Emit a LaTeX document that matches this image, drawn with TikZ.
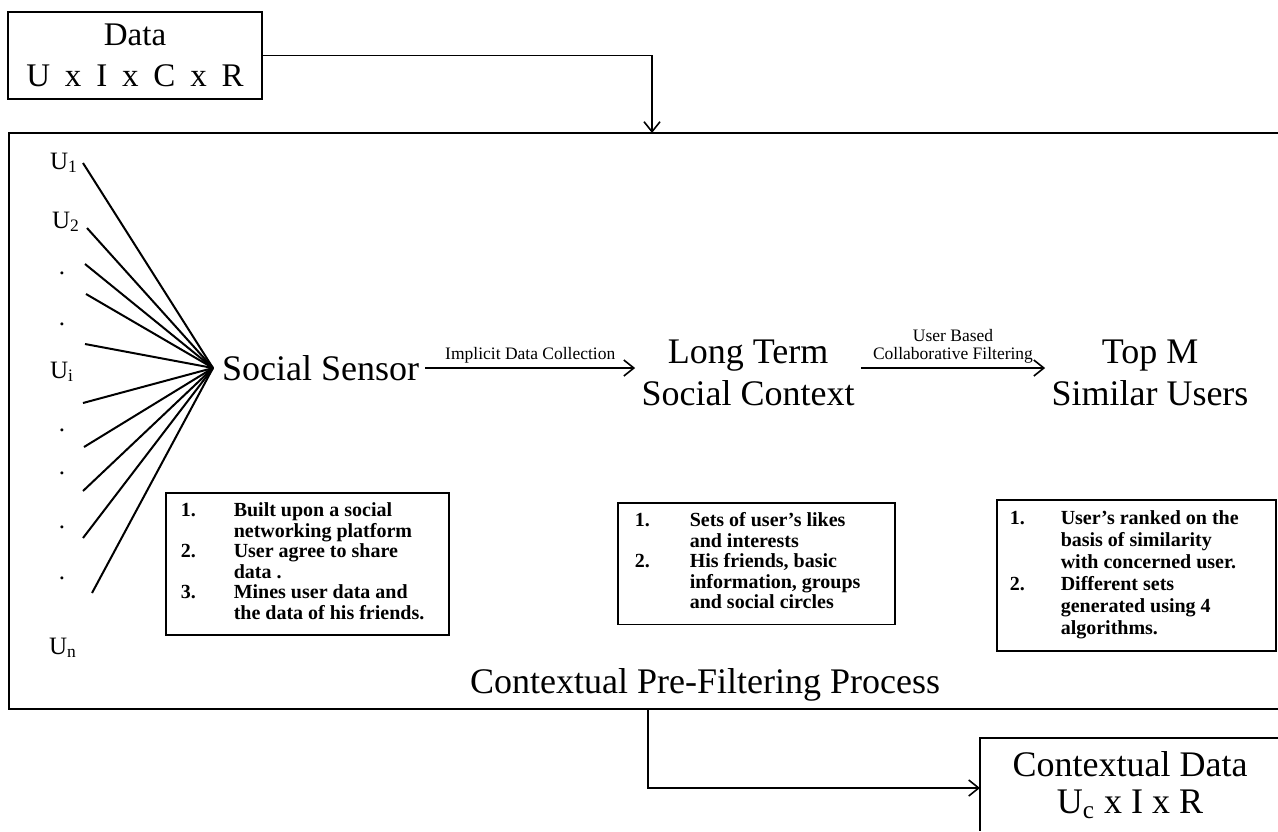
\documentclass[tikz,border=0pt]{standalone}
\usepackage{fontspec}
\setmainfont{Liberation Serif}
\usetikzlibrary{arrows.meta}
\newcommand{\wsp}{\hspace{0.45em}}

\begin{document}
\begin{tikzpicture}[x=0.5pt,y=-0.5pt,
  >={Straight Barb[length=5pt,width=8pt]},
  title/.style={font=\fontsize{18}{21}\selectfont,align=center,inner sep=3pt},
  datatxt/.style={font=\fontsize{16.5}{20.5}\selectfont,align=center},
  edgelbl/.style={font=\fontsize{8.75}{9}\selectfont,align=center,inner sep=2pt},
  userlbl/.style={font=\fontsize{12.5}{14}\selectfont,inner sep=0pt},
  infobox/.style={draw,line width=0.75pt,anchor=north west,inner ysep=4.8pt,font=\fontsize{10}{10.25}\selectfont\bfseries},
  fan/.style={line width=1pt},
  flow/.style={line width=0.8pt}]
  \useasboundingbox (0,0) rectangle (1278,831);

  \node[draw,line width=0.75pt,datatxt,minimum width=127pt,minimum height=43.5pt] (data) at (135,55.5) {Data\\U\wsp x\wsp I\wsp x\wsp C\wsp x\wsp R};
  \coordinate (pfin) at (652,133);
  \coordinate (pfout) at (648,709);
  \coordinate (hub) at (213,368);
  \coordinate (ctxin) at (980,788);

  \draw[flow] (1278,133) -- (9,133) -- (9,709) -- (1278,709);
  \draw[flow,->] (data.east) -| (pfin);

  \node[userlbl] (u1) at (64,163) {U\textsubscript{1}};
  \node[userlbl] (u2) at (66,222) {U\textsubscript{2}};
  \node[userlbl] (ui) at (62,372) {U\textsubscript{i}};
  \node[userlbl] (un) at (63,648) {U\textsubscript{n}};
  \foreach \y [count=\i] in {273,324,430,473,527,578}
    \node[userlbl] (dot\i) at (62,\y) {.};
  \foreach \x/\y [count=\i] in {83/163,87/228,85/264,86/294,85/344,83/403,84/447,83/491,83/538,92/593} {
    \coordinate (f\i) at (\x,\y);
    \draw[fan] (f\i) -- (hub);
  }

  \node[title] (sensor) at (320.5,368) {Social Sensor};
  \node[title] (ltc) at (748,373) {Long Term\\Social Context};
  \node[title] (topm) at (1150,373) {Top M\\Similar Users};
  \draw[flow,->] (sensor.east) -- node[edgelbl,above] {Implicit Data Collection} (sensor.east -| ltc.west);
  \draw[flow,->] (ltc.east |- sensor.east) -- node[edgelbl,above] {User Based\\Collaborative Filtering} (sensor.east -| topm.west);

  \node[infobox,inner xsep=7.5pt] (sensorinfo) at (165,492) {\begin{tabular}{@{}p{26.5pt}@{}p{100pt}@{}}
    1. & Built upon a social\\
       & networking platform\\
    2. & User agree to share\\
       & data .\\
    3. & Mines user data and\\
       & the data of his friends.
  \end{tabular}};
  \node[infobox,inner xsep=8.5pt] (ltcinfo) at (617,502) {\begin{tabular}{@{}p{27.5pt}@{}p{94pt}@{}}
    1. & Sets of user's likes\\
       & and interests\\
    2. & His friends, basic\\
       & information, groups\\
       & and social circles
  \end{tabular}};
  \node[infobox,inner xsep=6.5pt,font=\fontsize{10}{11}\selectfont\bfseries] (topminfo) at (996,499) {\begin{tabular}{@{}p{25.5pt}@{}p{101pt}@{}}
    1. & User's ranked on the\\
       & basis of similarity\\
       & with concerned user.\\
    2. & Different sets\\
       & generated using 4\\
       & algorithms.
  \end{tabular}};

  \node[title] (pflabel) at (705,685) {Contextual Pre-Filtering Process};

  \draw[flow] (1278,738) -- (980,738) -- (980,831);
  \node[title,font=\fontsize{18}{18.5}\selectfont] (ctx) at (1130,785) {Contextual Data\\U\textsubscript{c} x I x R};
  \draw[flow,->] (pfout) |- (ctxin);
\end{tikzpicture}
\end{document}
